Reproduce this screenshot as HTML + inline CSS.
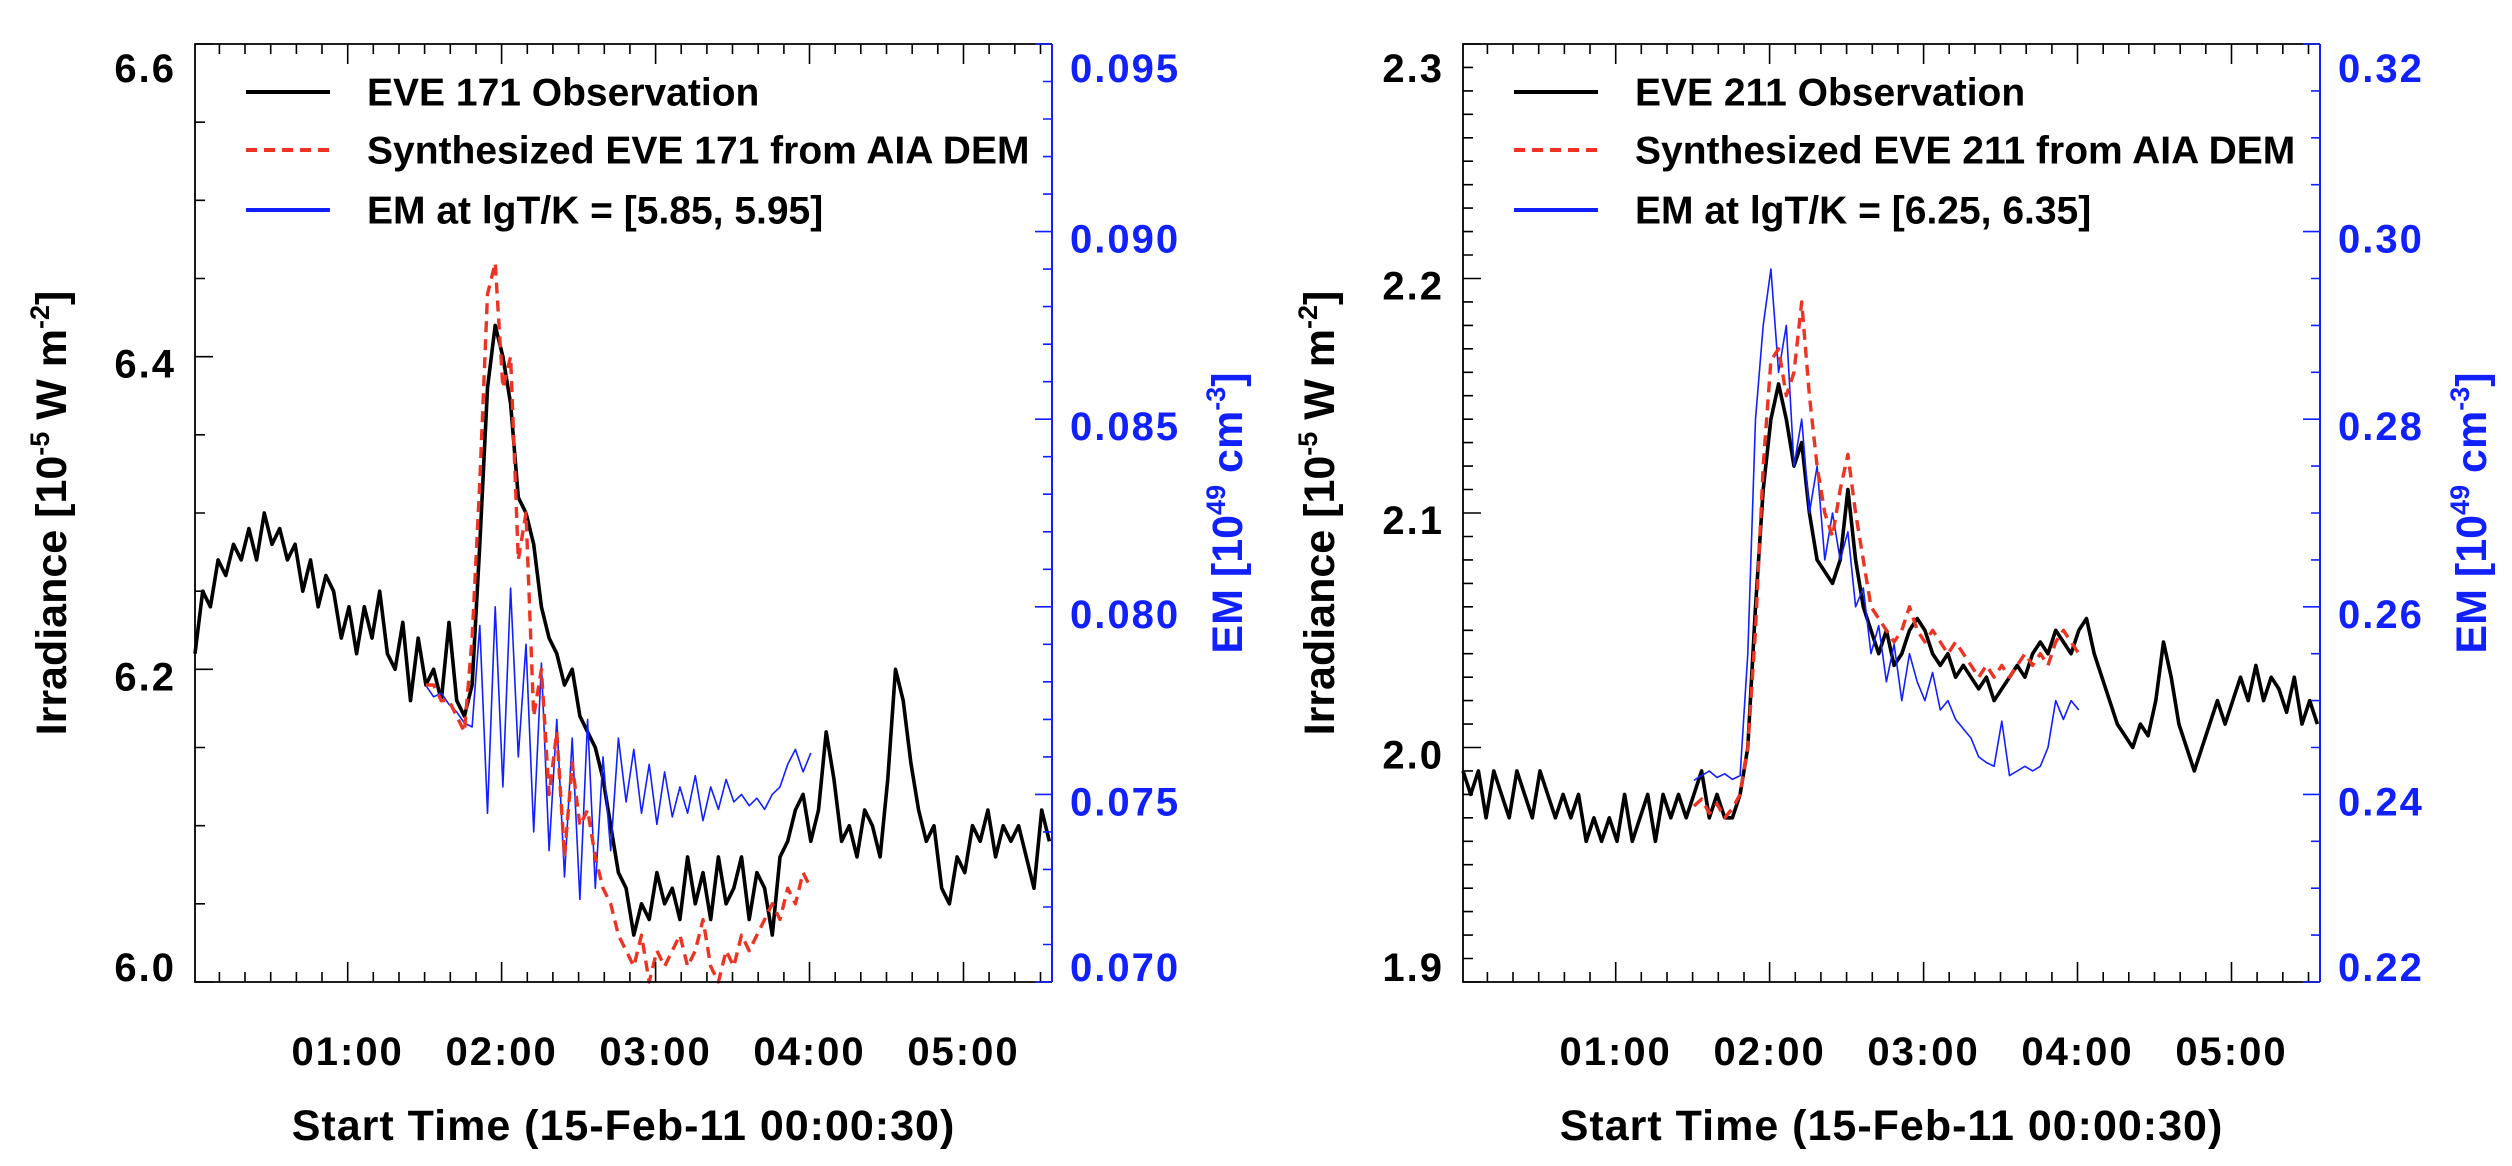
<!DOCTYPE html>
<html><head><meta charset="utf-8">
<style>
html,body{margin:0;padding:0;background:#fff;}
svg{display:block;font-family:"Liberation Sans",Arial,sans-serif;font-weight:bold;}
</style></head>
<body>
<svg id="fig" width="2512" height="1166" viewBox="0 0 2512 1166" xmlns="http://www.w3.org/2000/svg">
<rect x="0" y="0" width="2512" height="1166" fill="#fff"/>
<g id="p1"></g>
<g id="p2"></g>
</svg>
<script>
// ---- shared time axis (minutes since 00:00:30) ----
const fullTimes = [0,3,6,9,12,15,18,21,24,27,30,33,36,39,42,45,48,51,54,57,60,63,66,69,72,75,78,81,84,87,90,93,96,99,102,105,108,111,114,117,120,123,126,129,132,135,138,141,144,147,150,153,156,159,162,165,168,171,174,177,180,183,186,189,192,195,198,201,204,207,210,213,216,219,222,225,228,231,234,237,240,243,246,249,252,255,258,261,264,267,270,273,276,279,282,285,288,291,294,297,300,303,306,309,312,315,318,321,324,327,330,333];
const partTimes = [90,93,96,99,102,105,108,111,114,117,120,123,126,129,132,135,138,141,144,147,150,153,156,159,162,165,168,171,174,177,180,183,186,189,192,195,198,201,204,207,210,213,216,219,222,225,228,231,234,237,240];
const xTickLabels = ['01:00','02:00','03:00','04:00','05:00'];
const xTickClock = [60,120,180,240,300];

// ---- panel 1: EVE 171 ----
const obs171 = [6.21,6.25,6.24,6.27,6.26,6.28,6.27,6.29,6.27,6.30,6.28,6.29,6.27,6.28,6.25,6.27,6.24,6.26,6.25,6.22,6.24,6.21,6.24,6.22,6.25,6.21,6.20,6.23,6.18,6.22,6.19,6.20,6.18,6.23,6.18,6.17,6.19,6.28,6.38,6.42,6.40,6.37,6.31,6.30,6.28,6.24,6.22,6.21,6.19,6.20,6.17,6.16,6.15,6.13,6.10,6.07,6.06,6.03,6.05,6.04,6.07,6.05,6.06,6.04,6.08,6.05,6.07,6.04,6.08,6.05,6.06,6.08,6.04,6.07,6.06,6.03,6.08,6.09,6.11,6.12,6.09,6.11,6.16,6.13,6.09,6.10,6.08,6.11,6.10,6.08,6.13,6.20,6.18,6.14,6.11,6.09,6.10,6.06,6.05,6.08,6.07,6.10,6.09,6.11,6.08,6.10,6.09,6.10,6.08,6.06,6.11,6.09];
const syn171 = [6.19,6.19,6.18,6.18,6.17,6.16,6.22,6.32,6.44,6.46,6.38,6.40,6.27,6.30,6.17,6.20,6.12,6.16,6.08,6.14,6.10,6.11,6.08,6.06,6.05,6.03,6.02,6.01,6.03,6.00,6.02,6.01,6.02,6.03,6.01,6.02,6.04,6.01,6.00,6.02,6.01,6.03,6.02,6.03,6.04,6.05,6.04,6.06,6.05,6.07,6.06];
const em171 = [0.0779,0.0776,0.0777,0.0774,0.0772,0.0769,0.0768,0.0795,0.0745,0.0800,0.0752,0.0805,0.0760,0.0790,0.0740,0.0785,0.0735,0.0770,0.0728,0.0765,0.0722,0.0770,0.0725,0.0760,0.0735,0.0765,0.0748,0.0762,0.0745,0.0758,0.0742,0.0756,0.0744,0.0752,0.0745,0.0755,0.0743,0.0752,0.0746,0.0754,0.0748,0.0750,0.0747,0.0749,0.0746,0.0750,0.0752,0.0758,0.0762,0.0756,0.0761];
const yTickVals171 = [6.0,6.2,6.4,6.6];
const yTickLabels171 = ['6.0','6.2','6.4','6.6'];
const rTickVals171 = [0.070,0.075,0.080,0.085,0.090,0.095];
const rTickLabels171 = ['0.070','0.075','0.080','0.085','0.090','0.095'];

// ---- panel 2: EVE 211 ----
const obs211 = [1.99,1.98,1.99,1.97,1.99,1.98,1.97,1.99,1.98,1.97,1.99,1.98,1.97,1.98,1.97,1.98,1.96,1.97,1.96,1.97,1.96,1.98,1.96,1.97,1.98,1.96,1.98,1.97,1.98,1.97,1.98,1.99,1.97,1.98,1.97,1.97,1.98,2.00,2.06,2.11,2.14,2.155,2.14,2.12,2.13,2.10,2.08,2.075,2.07,2.08,2.11,2.08,2.06,2.05,2.04,2.05,2.035,2.04,2.05,2.055,2.05,2.04,2.035,2.04,2.03,2.035,2.03,2.025,2.03,2.02,2.025,2.03,2.035,2.03,2.04,2.045,2.04,2.05,2.045,2.04,2.05,2.055,2.04,2.03,2.02,2.01,2.005,2.00,2.01,2.005,2.02,2.045,2.03,2.01,2.00,1.99,2.00,2.01,2.02,2.01,2.02,2.03,2.02,2.035,2.02,2.03,2.025,2.015,2.03,2.01,2.02,2.01];
const syn211 = [1.975,1.978,1.972,1.976,1.970,1.974,1.980,2.00,2.05,2.12,2.165,2.17,2.15,2.16,2.19,2.15,2.12,2.10,2.09,2.11,2.125,2.10,2.08,2.06,2.055,2.05,2.045,2.05,2.06,2.05,2.045,2.05,2.045,2.04,2.045,2.04,2.035,2.03,2.035,2.03,2.035,2.03,2.035,2.04,2.035,2.04,2.035,2.045,2.05,2.045,2.04];
const em211 = [0.2415,0.2420,0.2425,0.2418,0.2422,0.2416,0.2420,0.255,0.280,0.290,0.296,0.285,0.290,0.275,0.280,0.270,0.275,0.265,0.270,0.265,0.268,0.260,0.262,0.255,0.258,0.252,0.256,0.250,0.255,0.252,0.250,0.253,0.249,0.250,0.248,0.247,0.246,0.244,0.2434,0.243,0.2478,0.242,0.2425,0.243,0.2425,0.243,0.245,0.250,0.248,0.250,0.249];
const yTickVals211 = [1.9,2.0,2.1,2.2,2.3];
const yTickLabels211 = ['1.9','2.0','2.1','2.2','2.3'];
const rTickVals211 = [0.22,0.24,0.26,0.28,0.30,0.32];
const rTickLabels211 = ['0.22','0.24','0.26','0.28','0.30','0.32'];

const NS = 'http://www.w3.org/2000/svg';
const BLUE = '#1020ff', RED = '#ee3322';
function mk(tag, attrs, parent){ const e=document.createElementNS(NS,tag); for(const k in attrs) e.setAttribute(k,attrs[k]); parent.appendChild(e); return e; }

function drawPanel(g, P){
  const x0=P.x0, x1=P.x1, y0=44, y1=982, tMax=334;
  const X = t => x0 + t/tMax*(x1-x0);
  const YL = v => y1 - (v-P.yl[0])/(P.yl[1]-P.yl[0])*(y1-y0);
  const YR = v => y1 - (v-P.yr[0])/(P.yr[1]-P.yr[0])*(y1-y0);

  // series
  function series(times, vals, sc, attrs, name){
    let d='';
    for(let i=0;i<vals.length;i++){ d += (i?'L':'M') + X(times[i]).toFixed(1)+','+sc(vals[i]).toFixed(1); }
    const p = mk('path', Object.assign({d:d, fill:'none', 'stroke-linejoin':'round'}, attrs), g);
    
    
  }
  series(P.times, P.obs, YL, {stroke:'#000','stroke-width':3.6}, 'observation-line');
  series(P.ptimes, P.em, YR, {stroke:BLUE,'stroke-width':1.6}, 'em-line');
  series(P.ptimes, P.syn, YL, {stroke:RED,'stroke-width':3.4,'stroke-dasharray':'11 7'}, 'synthesized-line');

  // frame
  const fr = mk('path',{d:`M${x1},${y1}L${x0},${y1}L${x0},${y0}L${x1},${y0}`, fill:'none', stroke:'#000','stroke-width':1.8}, g);
  
  
  const ra = mk('line',{x1:x1,y1:y0,x2:x1,y2:y1,stroke:BLUE,'stroke-width':2}, g);
  
  

  // x ticks: minor every 10 min, major every hour
  let tk='';
  for(let c=10;c<=330;c+=10){
    const x = X(c-0.5); const L = (c%60===0)?20:10;
    tk += `M${x.toFixed(1)},${y1}v${-L}M${x.toFixed(1)},${y0}v${L}`;
  }
  for(let i=0;i<P.yMinorCount;i++){
    const v = P.yl[0] + i*P.yMinorStep; const y=YL(v);
    const major = P.yTickVals.some(m=>Math.abs(m-v)<1e-9);
    tk += `M${x0},${y.toFixed(1)}h${major?18:10}`;
  }
  const tp = mk('path',{d:tk, stroke:'#000','stroke-width':1.6, fill:'none'}, g);
  
  
  let rk='';
  for(let i=0;i<P.rMinorCount;i++){
    const v = P.yr[0] + i*P.rMinorStep; const y=YR(v);
    const major = P.rTickVals.some(m=>Math.abs(m-v)<1e-9);
    rk += `M${x1},${y.toFixed(1)}h${major?-17:-9}`;
  }
  const rp = mk('path',{d:rk, stroke:BLUE,'stroke-width':1.6, fill:'none'}, g);
  
  

  // tick labels
  P.yTickVals.forEach((v,i)=>{
    let b = Math.max(82, Math.min(981, YL(v)+21));
    const t = mk('text',{x:x0-19,y:b,'text-anchor':'end','font-size':40,'letter-spacing':2,fill:'#000'}, g);
    t.textContent = P.yTickLabels[i];
    
    
  });
  P.rTickVals.forEach((v,i)=>{
    let b = Math.max(82, Math.min(981, YR(v)+21));
    const t = mk('text',{x:x1+18,y:b,'text-anchor':'start','font-size':40,'letter-spacing':2,fill:BLUE}, g);
    t.textContent = P.rTickLabels[i];
    
    
  });
  xTickClock.forEach((c,i)=>{
    const t = mk('text',{x:X(c-0.5),y:1065,'text-anchor':'middle','font-size':40,'letter-spacing':2,fill:'#000'}, g);
    t.textContent = xTickLabels[i];
    
    
  });

  // axis titles
  const xt = mk('text',{x:(x0+x1)/2,y:1140,'text-anchor':'middle','font-size':43,'letter-spacing':1,fill:'#000'}, g);
  xt.textContent = 'Start Time (15-Feb-11 00:00:30)';
  
  

  const ly = mk('text',{x:P.ltx,y:513,'text-anchor':'middle','font-size':43,fill:'#000',transform:`rotate(-90 ${P.ltx} 513)`}, g);
  ly.innerHTML = 'Irradiance [10<tspan font-size="27" dy="-17">-5</tspan><tspan dy="17"> W m</tspan><tspan font-size="27" dy="-17">-2</tspan><tspan dy="17">]</tspan>';
  
  

  const ry = mk('text',{x:P.rtx,y:513,'text-anchor':'middle','font-size':43,fill:BLUE,transform:`rotate(-90 ${P.rtx} 513)`}, g);
  ry.innerHTML = 'EM [10<tspan font-size="27" dy="-17">49</tspan><tspan dy="17"> cm</tspan><tspan font-size="27" dy="-17">-3</tspan><tspan dy="17">]</tspan>';
  
  

  // legend
  const lg = mk('g',{}, g);
  
  
  const lx = x0+51;
  const rows = [
    {y:92, stroke:'#000', dash:null, w:4, text:P.leg[0], name:'legend-observation'},
    {y:150, stroke:RED, dash:'11 7', w:4, text:P.leg[1], name:'legend-synthesized'},
    {y:210, stroke:BLUE, dash:null, w:4, text:P.leg[2], name:'legend-em'}
  ];
  rows.forEach(r=>{
    const a = {x1:lx,y1:r.y,x2:lx+84,y2:r.y,stroke:r.stroke,'stroke-width':r.w};
    if(r.dash) a['stroke-dasharray']=r.dash;
    const ln = mk('line',a,lg);
    
    
    const t = mk('text',{x:lx+121,y:r.y+13.5,'font-size':39,fill:'#000'},lg);
    t.textContent = r.text;
    
    
  });
}

drawPanel(document.getElementById('p1'), {
  x0:195, x1:1052, yl:[6.0,6.6], yr:[0.070,0.095],
  yMinorStep:0.05, yMinorCount:13, rMinorStep:0.001, rMinorCount:26,
  yTickVals:yTickVals171, yTickLabels:yTickLabels171, rTickVals:rTickVals171, rTickLabels:rTickLabels171,
  times:fullTimes, ptimes:partTimes, obs:obs171, syn:syn171, em:em171,
  ltx:66, rtx:1242,
  leg:['EVE 171 Observation','Synthesized EVE 171 from AIA DEM','EM at lgT/K = [5.85, 5.95]']
});
drawPanel(document.getElementById('p2'), {
  x0:1463, x1:2320, yl:[1.9,2.3], yr:[0.22,0.32],
  yMinorStep:0.01, yMinorCount:41, rMinorStep:0.005, rMinorCount:21,
  yTickVals:yTickVals211, yTickLabels:yTickLabels211, rTickVals:rTickVals211, rTickLabels:rTickLabels211,
  times:fullTimes, ptimes:partTimes, obs:obs211, syn:syn211, em:em211,
  ltx:1334, rtx:2486,
  leg:['EVE 211 Observation','Synthesized EVE 211 from AIA DEM','EM at lgT/K = [6.25, 6.35]']
});
</script>
</body></html>
